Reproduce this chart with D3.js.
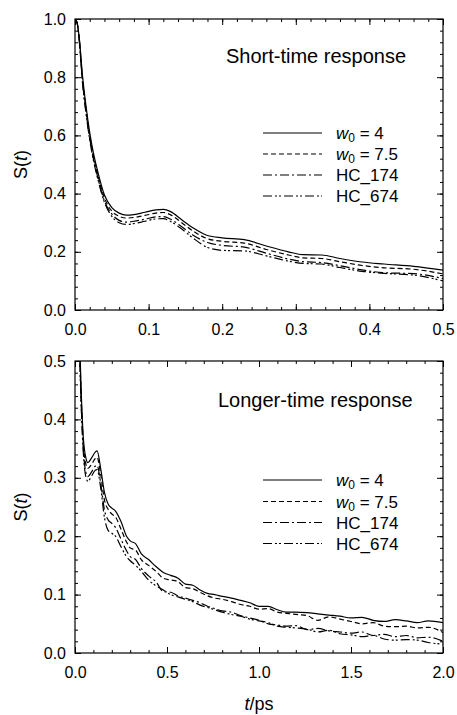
<!DOCTYPE html>
<html>
<head>
<meta charset="utf-8">
<script src="https://cdn.jsdelivr.net/npm/d3@7"></script>
<style>
  body { margin: 0; background: #fff; }
  svg text { font-family: "Liberation Sans", Arial, sans-serif; fill: #000; }
</style>
</head>
<body>
<svg id="grafico" width="457" height="715"></svg>
<script>
// Datos (panel superior, respuesta corta)
const tCorto = [0, 0.003, 0.006, 0.01, 0.015, 0.02, 0.025, 0.03, 0.04, 0.05, 0.06, 0.07, 0.08, 0.095, 0.11, 0.12, 0.13, 0.145, 0.16, 0.18, 0.2, 0.23, 0.26, 0.29, 0.31, 0.335, 0.36, 0.39, 0.42, 0.46, 0.5];
const w4Corto = [1.0, 0.985, 0.93, 0.81, 0.70, 0.61, 0.54, 0.485, 0.395, 0.352, 0.333, 0.326, 0.328, 0.336, 0.344, 0.346, 0.338, 0.31, 0.283, 0.256, 0.248, 0.242, 0.220, 0.200, 0.190, 0.189, 0.177, 0.165, 0.158, 0.150, 0.137];
const w75Corto = [1.0, 0.985, 0.925, 0.80, 0.69, 0.60, 0.53, 0.475, 0.385, 0.34, 0.322, 0.316, 0.318, 0.325, 0.333, 0.335, 0.327, 0.30, 0.272, 0.245, 0.236, 0.230, 0.208, 0.189, 0.179, 0.177, 0.166, 0.153, 0.145, 0.140, 0.124];
const hc174Corto = [1.0, 0.985, 0.92, 0.79, 0.68, 0.59, 0.52, 0.465, 0.375, 0.33, 0.308, 0.302, 0.305, 0.312, 0.320, 0.321, 0.312, 0.286, 0.258, 0.232, 0.222, 0.216, 0.195, 0.175, 0.166, 0.163, 0.152, 0.138, 0.128, 0.125, 0.108];
const hc674Corto = [1.0, 0.985, 0.92, 0.785, 0.675, 0.585, 0.515, 0.46, 0.37, 0.322, 0.300, 0.294, 0.297, 0.305, 0.313, 0.314, 0.304, 0.278, 0.248, 0.215, 0.205, 0.203, 0.186, 0.168, 0.160, 0.158, 0.146, 0.133, 0.126, 0.120, 0.100];

// Panel inferior, respuesta larga
const tLargo = [0, 0.01, 0.02, 0.03, 0.045, 0.06, 0.07, 0.09, 0.11, 0.12, 0.14, 0.16, 0.18, 0.2, 0.22, 0.25, 0.28, 0.3, 0.33, 0.36, 0.4, 0.44, 0.48, 0.52, 0.56, 0.6, 0.64, 0.68, 0.72, 0.76, 0.8, 0.85, 0.9, 0.95, 1.0, 1.05, 1.1, 1.15, 1.2, 1.26, 1.32, 1.38, 1.44, 1.5, 1.56, 1.62, 1.68, 1.74, 1.8, 1.86, 1.92, 2.0];
const w4Largo = [1.0, 0.81, 0.61, 0.485, 0.37, 0.333, 0.326, 0.334, 0.344, 0.346, 0.315, 0.275, 0.255, 0.248, 0.243, 0.225, 0.200, 0.192, 0.187, 0.170, 0.160, 0.148, 0.138, 0.133, 0.128, 0.118, 0.116, 0.108, 0.102, 0.100, 0.097, 0.094, 0.090, 0.086, 0.080, 0.080, 0.074, 0.070, 0.070, 0.069, 0.067, 0.065, 0.063, 0.060, 0.061, 0.056, 0.054, 0.057, 0.055, 0.052, 0.055, 0.052];
const w75Largo = [1.0, 0.80, 0.60, 0.475, 0.36, 0.322, 0.316, 0.323, 0.333, 0.335, 0.305, 0.262, 0.246, 0.238, 0.233, 0.212, 0.190, 0.180, 0.176, 0.160, 0.150, 0.140, 0.128, 0.125, 0.122, 0.112, 0.110, 0.104, 0.098, 0.094, 0.092, 0.088, 0.083, 0.080, 0.075, 0.076, 0.070, 0.068, 0.066, 0.064, 0.056, 0.062, 0.058, 0.054, 0.050, 0.052, 0.046, 0.045, 0.046, 0.043, 0.044, 0.035];
const hc174Largo = [1.0, 0.79, 0.59, 0.465, 0.35, 0.308, 0.302, 0.310, 0.320, 0.321, 0.290, 0.245, 0.228, 0.222, 0.215, 0.195, 0.175, 0.165, 0.160, 0.145, 0.132, 0.122, 0.105, 0.104, 0.098, 0.094, 0.090, 0.086, 0.080, 0.076, 0.072, 0.070, 0.064, 0.060, 0.056, 0.050, 0.048, 0.046, 0.047, 0.040, 0.042, 0.038, 0.036, 0.034, 0.036, 0.030, 0.032, 0.028, 0.030, 0.026, 0.027, 0.020];
const hc674Largo = [1.0, 0.785, 0.585, 0.46, 0.345, 0.300, 0.294, 0.303, 0.313, 0.314, 0.282, 0.232, 0.210, 0.205, 0.200, 0.182, 0.165, 0.158, 0.150, 0.140, 0.125, 0.115, 0.108, 0.100, 0.096, 0.092, 0.088, 0.082, 0.078, 0.074, 0.070, 0.066, 0.063, 0.058, 0.055, 0.052, 0.046, 0.044, 0.043, 0.041, 0.036, 0.039, 0.033, 0.031, 0.028, 0.030, 0.024, 0.022, 0.023, 0.022, 0.018, 0.015];

const nombresSeries = ["w4", "w75", "hc174", "hc674"];
const trazos = { w4: null, w75: "5,3", hc174: "9,3,2,3", hc674: "9,3,2,2,2,3" };

const svg = d3.select("#grafico");

// Dibuja un panel completo
function dibujarPanel(cfg) {
  const { x0, x1, y0, y1 } = cfg;
  const x = d3.scaleLinear().domain(cfg.dominioX).range([x0, x1]);
  const y = d3.scaleLinear().domain(cfg.dominioY).range([y1, y0]);
  const g = svg.append("g");

  const clipId = "clip" + cfg.id;
  svg.append("clipPath").attr("id", clipId)
    .append("rect").attr("x", x0).attr("y", y0).attr("width", x1 - x0).attr("height", y1 - y0);

  const ticksMenores = (dom, paso) => d3.range(dom[0], dom[1] + paso / 2, paso);

  // ejes con ticks hacia dentro (abajo e izquierda con etiquetas)
  const ejes = [
    { eje: d3.axisBottom(x), pos: `translate(0,${y1})` , mayor: cfg.mayorX, menor: cfg.menorX, dom: cfg.dominioX, etiq: true, fmt: cfg.fmtX, pad: 14 },
    { eje: d3.axisTop(x), pos: `translate(0,${y0})`, mayor: cfg.mayorX, menor: cfg.menorX, dom: cfg.dominioX, etiq: false, pad: 3 },
    { eje: d3.axisLeft(y), pos: `translate(${x0},0)`, mayor: cfg.mayorY, menor: cfg.menorY, dom: cfg.dominioY, etiq: true, fmt: cfg.fmtY, pad: 9 },
    { eje: d3.axisRight(y), pos: `translate(${x1},0)`, mayor: cfg.mayorY, menor: cfg.menorY, dom: cfg.dominioY, etiq: false, pad: 3 }
  ];
  ejes.forEach(e => {
    // menores
    g.append("g").attr("transform", e.pos)
      .call(e.eje.tickValues(ticksMenores(e.dom, e.menor)).tickSize(-3).tickFormat(""))
      .call(s => s.select(".domain").remove());
    // mayores
    const ax = g.append("g").attr("transform", e.pos)
      .call(e.eje.tickValues(ticksMenores(e.dom, e.mayor)).tickSize(-6)
        .tickPadding(e.pad)
        .tickFormat(e.etiq ? e.fmt : ""));
    ax.select(".domain").remove();
    ax.selectAll("text").style("font-size", "16px");
  });

  g.selectAll(".tick line").attr("stroke", "#000").attr("stroke-width", 1);

  // marco
  g.append("rect").attr("x", x0).attr("y", y0).attr("width", x1 - x0).attr("height", y1 - y0)
    .attr("fill", "none").attr("stroke", "#000").attr("stroke-width", 1.2);

  // curvas
  const linea = d3.line().x(d => x(d[0])).y(d => y(d[1])).curve(cfg.curva);
  nombresSeries.forEach(n => {
    const puntos = cfg.t.map((t, i) => [t, cfg.series[n][i]]);
    g.append("path")
      .attr("clip-path", `url(#${clipId})`)
      .attr("d", linea(puntos))
      .attr("fill", "none")
      .attr("stroke", "#000")
      .attr("stroke-width", 1.2)
      .attr("stroke-dasharray", trazos[n]);
  });

  // titulo del panel
  g.append("text").attr("x", cfg.tituloX).attr("y", cfg.tituloY)
    .style("font-size", "20px").text(cfg.titulo);

  // leyenda
  const etiquetas = [["w", "0", " = 4"], ["w", "0", " = 7.5"], ["HC_174"], ["HC_674"]];
  nombresSeries.forEach((n, i) => {
    const yl = cfg.leyendaY[i];
    g.append("line").attr("x1", 263).attr("x2", 322).attr("y1", yl).attr("y2", yl)
      .attr("stroke", "#000").attr("stroke-width", 1.2).attr("stroke-dasharray", trazos[n]);
    const txt = g.append("text").attr("x", 336).attr("y", yl + 6).style("font-size", "17px");
    const et = etiquetas[i];
    if (et.length === 1) {
      txt.text(et[0]);
    } else {
      txt.append("tspan").style("font-style", "italic").text(et[0]);
      txt.append("tspan").attr("dy", 3).style("font-size", "12px").text(et[1]);
      txt.append("tspan").attr("dy", -3).text(et[2]);
    }
  });

  // etiqueta eje Y
  const ym = (y0 + y1) / 2;
  const ly = g.append("text").attr("transform", `translate(27,${ym}) rotate(-90)`)
    .attr("text-anchor", "middle").style("font-size", "18px");
  ly.append("tspan").text("S(");
  ly.append("tspan").style("font-style", "italic").text("t");
  ly.append("tspan").text(")");
}

dibujarPanel({
  id: "a", x0: 75, x1: 443, y0: 19, y1: 310,
  dominioX: [0, 0.5], dominioY: [0, 1.0],
  mayorX: 0.1, menorX: 0.02, mayorY: 0.2, menorY: 0.04,
  fmtX: d3.format(".1f"), fmtY: d3.format(".1f"),
  t: tCorto,
  series: { w4: w4Corto, w75: w75Corto, hc174: hc174Corto, hc674: hc674Corto },
  curva: d3.curveMonotoneX,
  titulo: "Short-time response", tituloX: 226, tituloY: 63,
  leyendaY: [133, 154, 175, 196]
});

dibujarPanel({
  id: "b", x0: 75, x1: 443, y0: 361, y1: 653,
  dominioX: [0, 2.0], dominioY: [0, 0.5],
  mayorX: 0.5, menorX: 0.1, mayorY: 0.1, menorY: 0.02,
  fmtX: d3.format(".1f"), fmtY: d3.format(".1f"),
  t: tLargo,
  series: { w4: w4Largo, w75: w75Largo, hc174: hc174Largo, hc674: hc674Largo },
  curva: d3.curveMonotoneX,
  titulo: "Longer-time response", tituloX: 218, tituloY: 407,
  leyendaY: [480, 501.5, 522.5, 543.5]
});

// etiqueta eje X inferior
const lx = svg.append("text").attr("x", 259).attr("y", 710)
  .attr("text-anchor", "middle").style("font-size", "18px");
lx.append("tspan").style("font-style", "italic").text("t");
lx.append("tspan").text("/ps");
</script>
</body>
</html>
